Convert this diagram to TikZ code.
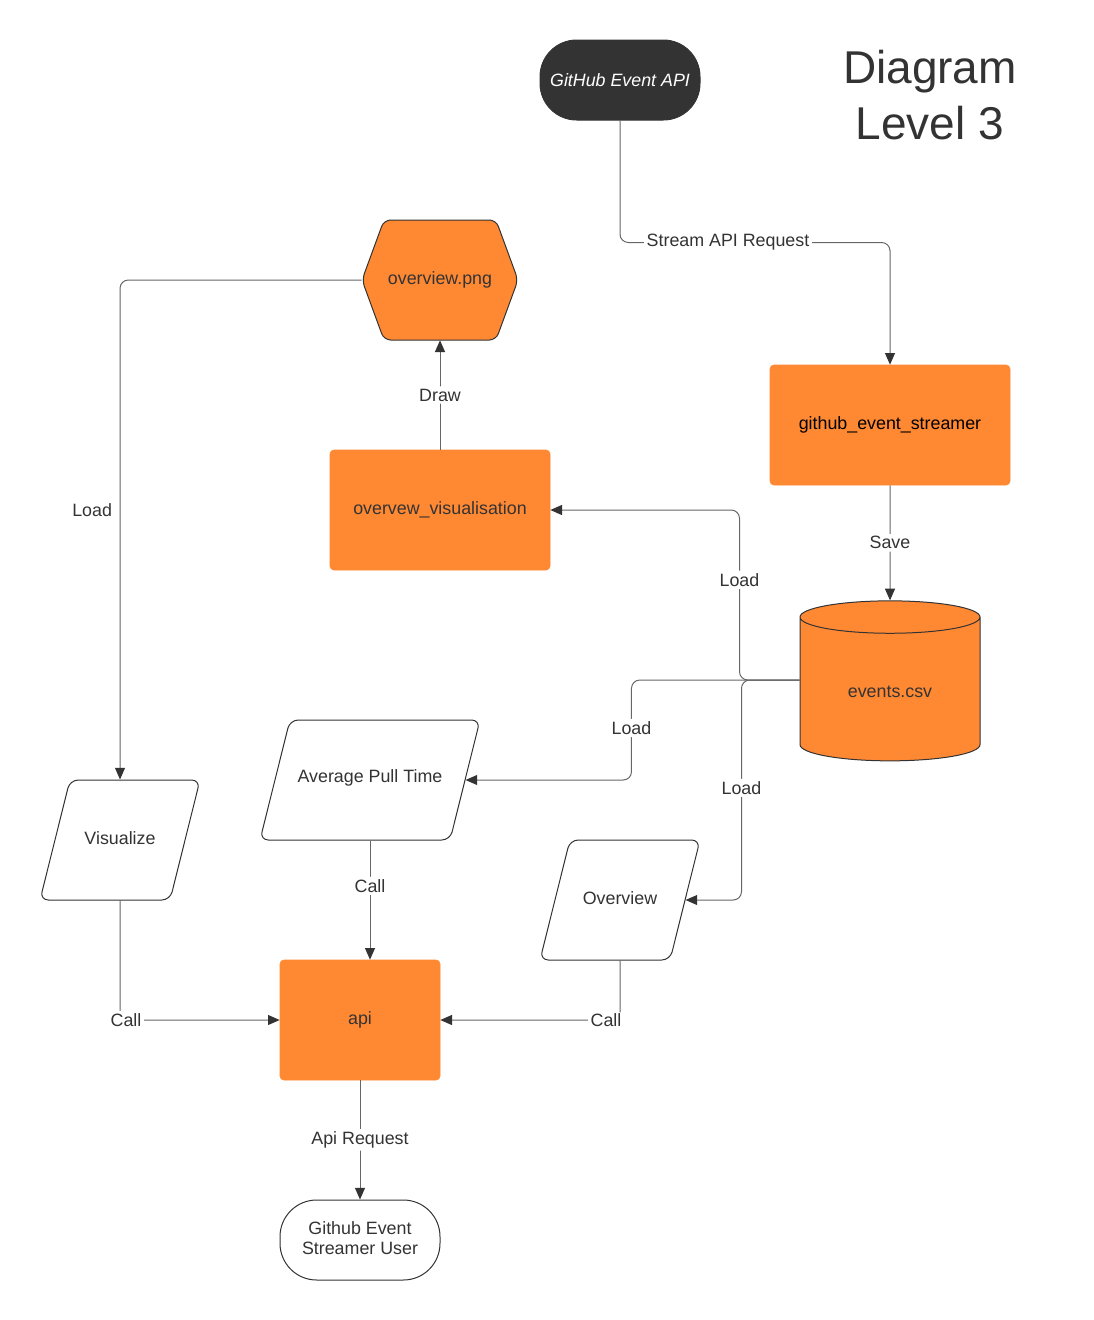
\documentclass[tikz,border=0pt]{standalone}
\usepackage{fontspec}
\setmainfont{Liberation Sans}
\usetikzlibrary{shapes.geometric, positioning, arrows.meta}
\definecolor{lorange}{HTML}{FF8833}
\definecolor{ldark}{HTML}{333333}
\definecolor{lline}{HTML}{666666}
\tikzset{every node/.style={font=\fontsize{10.7}{13}\selectfont, text=ldark},
         process/.style={draw=lorange, fill=lorange, rounded corners=2.4pt, minimum width=144pt, minimum height=72pt},
         terminal/.style={draw=ldark, line width=0.6pt, rounded corners=22pt, minimum width=96pt, minimum height=48pt},
         io/.style={trapezium, trapezium left angle=76, trapezium right angle=104, trapezium stretches body,
                    draw=ldark, fill=white, line width=0.6pt, rounded corners=5pt, text height=8pt, text depth=2.5pt,
                    inner xsep=4pt, inner ysep=30.75pt, minimum width=96pt, minimum height=72pt},
         datastore/.style={cylinder, shape border rotate=90, aspect=0.34, draw=ldark, line width=0.6pt,
                    cylinder uses custom fill, cylinder body fill=lorange, cylinder end fill=lorange,
                    minimum width=108pt, minimum height=96pt},
         hexa/.style={draw=ldark, fill=lorange, line width=0.6pt, rounded corners=4pt},
         flow/.style={draw=lline, line width=0.6pt, rounded corners=5pt, -{Triangle[length=7pt,width=6pt,color=ldark]}},
         lbl/.style={fill=white, inner sep=1.5pt},
        }

\begin{document}
\begin{tikzpicture}[x=0.6pt, y=-0.6pt]
        \useasboundingbox (0,0) rectangle (1094,1320);

        \node[terminal, fill=ldark, text=white, font=\fontsize{10.7}{13}\selectfont\itshape](src)at(620,80){GitHub Event API};
        \node[align=center, font=\fontsize{27.6}{33.6}\selectfont](title)at(930,95){Diagram\\Level 3};

        \node[process, text=black](streamer)at(890,425){github\_event\_streamer};
        \node[datastore](csv)at(890,692){events.csv};
        \coordinate(csvout)at([yshift=7.2pt]csv.west);
        \node[process, minimum width=132pt](vis)at(440,510){overvew\_visualisation};

        \coordinate(pngc)at(440,280);
        \draw[hexa, shift={(pngc)}](-78,0)--(-56,-60)--(56,-60)--(78,0)--(56,60)--(-56,60)--cycle;
        \node[minimum width=93.6pt, minimum height=72pt, inner sep=0pt](png)at(pngc){overview.png};

        \node[io](visz)at(120,840){Visualize};
        \node[io, minimum width=132pt](apt)at(370,780){};
        \node(apttext)at(370,778){Average Pull Time};
        \node[io](ov)at(620,900){Overview};

        \node[process, minimum width=96pt](api)at(360,1020){api};
        \node[terminal](user)at(360,1240){\begin{tabular}{@{}c@{}}Github Event\\[-1pt]Streamer User\end{tabular}};

        \draw[flow](src.south)--++(0,122)-|(streamer.north)node[pos=0.2, lbl]{Stream API Request};
        \draw[flow](streamer.south)--(csv.north)node[midway, lbl]{Save};

        \draw[flow](csvout)--++(-60,0)|-(vis.east)node[pos=0.295, lbl]{Load};
        \draw[flow](csvout)--++(-168,0)|-(apt.east)node[pos=0.24, lbl]{Load};
        \draw[flow](csvout)--++(-58,0)|-(ov.east)node[pos=0.245, lbl]{Load};

        \draw[flow](vis.north)--(png.south)node[midway, lbl]{Draw};
        \draw[flow](png.west)-|(visz.north)node[pos=0.73, left=1.2pt]{Load};

        \draw[flow](visz.south)|-(api.west)node[pos=0.5, lbl, xshift=3.6pt]{Call};
        \draw[flow](apt.south)--(apt.south|-api.north)node[pos=0.38, lbl]{Call};
        \draw[flow](ov.south)|-(api.east)node[pos=0.5, lbl, xshift=-8.4pt]{Call};

        \draw[flow](api.south)--(user.north)node[midway, lbl]{Api Request};
    \end{tikzpicture}
\end{document}
